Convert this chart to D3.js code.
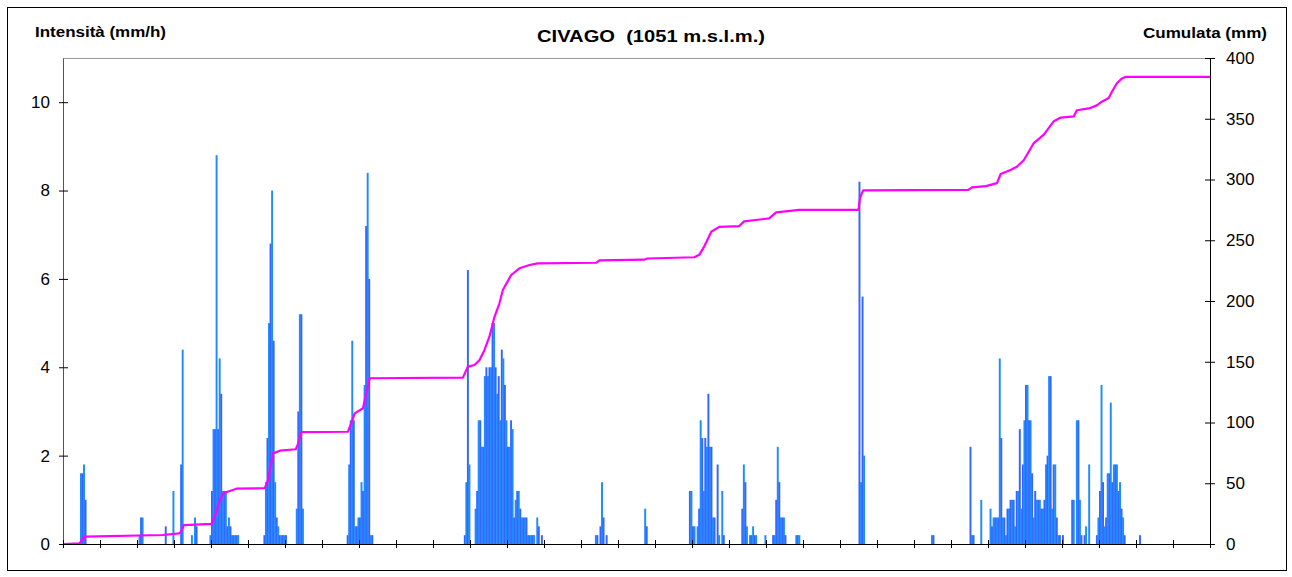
<!DOCTYPE html>
<html><head><meta charset="utf-8">
<script src="https://cdn.jsdelivr.net/npm/d3@7"></script>
<style>
html,body{margin:0;padding:0;background:#fff;}
svg{display:block;font-family:"Liberation Sans",Arial,sans-serif;}
</style></head><body>
<svg id="chart" width="1292" height="577"></svg>
<script>
// ---------- data ----------
const chartTitle = "CIVAGO  (1051 m.s.l.m.)";
const leftTitle = "Intensità (mm/h)";
const rightTitle = "Cumulata (mm)";
const totalHours = 744;               // 31 days of hourly values
const dayTicks = [0,1,2,3,4,5,6,7,8,9,10,11,12,13,14,15,16,17,18,19,20,21,22,23,24,25,26,27,28,29,30,31];
const leftTicks = [0, 2, 4, 6, 8, 10];
const rightTicks = [0, 50, 100, 150, 200, 250, 300, 350, 400];

// rain events: [start hour, consecutive hourly intensities (mm/h)]
const rainEvents = [
  [11, [1.6, 1.6, 1.8, 1.0]],
  [49, [0.2, 0.6, 0.6]],
  [66, [0.4]],
  [71, [1.2]],
  [76, [1.8, 4.4]],
  [83, [0.2, 0, 0.6, 0.4]],
  [95, [0.2, 1.2, 2.6, 2.6, 8.8, 2.6, 4.2, 3.4, 1.2, 1.2, 1.2, 0.4, 0.6, 0.4, 0.2, 0.2, 0.2, 0.2, 0.2]],
  [130, [0.2, 1.4, 2.4, 5.0, 6.8, 8.0, 4.6, 1.4, 0.6, 0.4, 0.2, 0.2, 0.2, 0.2, 0.2]],
  [151, [0.8, 3.0, 5.2, 5.2, 0.8]],
  [184, [0.2, 1.8, 2.8, 4.6, 2.8, 0.4, 0.4, 0.6, 0.6, 1.4, 1.2, 3.6, 7.2, 8.4, 6.0, 0.2, 0.2]],
  [260, [0.2, 1.4, 6.2, 1.8]],
  [267, [0.8, 1.2, 2.8, 2.8, 2.2, 2.2, 3.8, 4.0, 3.8, 4.0, 4.0, 5.0, 5.0, 4.0, 3.4, 3.8, 2.8, 4.4, 4.2, 3.6, 2.8, 2.2, 2.2, 2.8, 2.6, 0.6, 1.0, 1.2, 1.2, 0.8, 0.6, 0.6, 0.6, 0.6, 0.2, 0.2, 0.2, 0.2, 0.2, 0, 0.6, 0.4, 0, 0.2]],
  [345, [0.2, 0.2, 0, 0.4, 1.4, 0.6, 0, 0.2]],
  [377, [0.8, 0.4]],
  [406, [1.2, 1.2, 0.4, 0.4, 0, 0.4, 0.8, 2.8, 2.4, 1.2, 2.4, 2.2, 3.4, 2.2, 2.2, 0.6, 0.6, 0, 1.8, 0.2, 0, 1.2, 0.2]],
  [440, [0.8, 1.8, 1.4, 0.4, 0, 0.2, 0.2, 0.4, 0.2, 0.2]],
  [455, [0.2]],
  [460, [0.2, 0.2, 1.0, 2.2, 1.4, 0.6, 0.6, 0.6, 0.2]],
  [475, [0.2, 0.2, 0.2]],
  [516, [8.2, 1.4, 5.6, 2.0]],
  [563, [0.2, 0.2]],
  [588, [2.2, 0.2, 0.2]],
  [595, [1.0]],
  [601, [0.8, 0.4, 0.6, 0.6, 0.6, 0.6, 4.2, 2.4, 0.6, 0.6, 0.2, 0.8, 0.8, 1.0, 1.0, 1.0, 0.4, 1.2, 1.2, 2.6, 0.8, 1.8, 2.8, 3.6, 3.6, 2.8, 2.8, 1.6, 0.6, 1.2, 1.0, 1.0, 1.0, 0.8, 0.8, 1.0, 1.8, 2.0, 3.8, 3.8, 0.8, 1.8, 1.8, 0.6, 0.2, 0.2, 0, 0.2]],
  [654, [1.0, 1.0, 0, 2.8, 2.8, 1.0, 0.2, 0, 0.2, 0.4, 0, 1.8]],
  [670, [0.2, 0.6, 1.2, 3.6, 1.4, 0.4, 0.6, 1.6, 1.6, 3.2, 1.4, 1.8, 1.8, 1.8, 1.2, 1.4, 0.8, 0.6, 0.2]],
  [698, [0.2]]
];

// cumulative rainfall (mm) read at key hours
const cumHours  = [0, 10.6, 11.7, 14.3, 64.8, 75.2, 76.5, 78.4, 96.3, 99.1, 101.7, 104.3, 112.5, 130.9, 133, 136.3, 140.6, 151, 152.3, 154.6, 184.8, 187.2, 189.2, 194.6, 196.3, 198.9, 259.4, 262.6, 266.9, 270.2, 273.4, 276.6, 279.9, 283.1, 285.3, 290.7, 296.1, 302.6, 307.9, 346, 348, 377, 379, 409.5, 412.7, 416, 420.5, 425.6, 438.6, 441.8, 458, 462.6, 477.5, 516, 517, 519, 587.2, 589.6, 598.6, 605.8, 608.2, 614.6, 618.7, 623.3, 629.7, 636.2, 642.7, 647.2, 655.7, 657.6, 665.4, 670.6, 673.8, 678.3, 680.3, 683.5, 686.7, 689.3, 744];
const cumValues = [0, 0.5, 2, 6, 7.4, 8.8, 10, 15.6, 16.5, 25, 36, 42, 45.5, 46, 52.7, 74.6, 76.8, 78, 82, 92, 92.4, 100, 107.5, 111.7, 122, 136.4, 136.9, 146, 147.3, 151.4, 159.7, 170.6, 187, 198.1, 209, 221.4, 226.9, 229.6, 231, 231.5, 233.5, 234, 235, 236, 238, 245, 257, 261, 261.7, 265.5, 268, 273, 275, 275, 285, 291, 291.4, 293.5, 294.5, 297, 304.5, 307.8, 310.5, 316, 330, 337, 348, 351, 352, 357, 358.5, 361, 364, 367, 372, 379, 383, 384.5, 384.5];

// ---------- build ----------
const hourly = [];
rainEvents.forEach(([start, vals]) => vals.forEach((v, i) => { if (v > 0) hourly.push({h: start + i, v}); }));
const cumSeries = cumHours.map((h, i) => ({h, v: cumValues[i]}));

const svg = d3.select("#chart");
const plotL = 63, plotR = 1210, plotT = 58, plotB = 544;

const x = d3.scaleLinear().domain([0, totalHours]).range([plotL, plotR]);
const yL = d3.scaleLinear().domain([0, 11]).range([plotB, plotT]);
const yR = d3.scaleLinear().domain([0, 400]).range([plotB, plotT]);

// outer frame
svg.append("rect").attr("x", 7.5).attr("y", 7.5).attr("width", 1279).attr("height", 563)
  .attr("fill", "none").attr("stroke", "#000").attr("stroke-width", 1);

// plot top border
svg.append("line").attr("x1", plotL).attr("x2", plotR).attr("y1", plotT + 0.5).attr("y2", plotT + 0.5)
  .attr("stroke", "#9a9a9a").attr("stroke-width", 1);

// bars
svg.append("g").selectAll("rect").data(hourly).join("rect")
  .attr("x", d => x(d.h))
  .attr("width", d => x(d.h + 1) - x(d.h) + 0.4)
  .attr("y", d => yL(d.v))
  .attr("height", d => yL(0) - yL(d.v))
  .attr("fill", d => d.h % 2 ? "#1e8cff" : "#3366ff");

// cumulative line
svg.append("path").datum(cumSeries)
  .attr("fill", "none").attr("stroke", "#ff00ff").attr("stroke-width", 2.2)
  .attr("stroke-linejoin", "round")
  .attr("d", d3.line().x(d => x(d.h)).y(d => yR(d.v)));

// left axis
const gL = svg.append("g").attr("transform", `translate(${plotL},0)`)
  .call(d3.axisLeft(yL).tickValues(leftTicks).tickFormat(d3.format("d")).tickSizeOuter(0));
gL.select(".domain").attr("stroke", "#555");
gL.selectAll(".tick line").attr("x1", -4).attr("x2", 5).attr("stroke", "#000");
gL.selectAll(".tick text").attr("x", -13).attr("font-size", 17).attr("font-family", "Liberation Sans, Arial, sans-serif").attr("fill", "#000");

// right axis
const gR = svg.append("g").attr("transform", `translate(${plotR},0)`)
  .call(d3.axisRight(yR).tickValues(rightTicks).tickSizeOuter(0));
gR.select(".domain").attr("stroke", "#000");
gR.selectAll(".tick line").attr("x1", -5).attr("x2", 5).attr("stroke", "#000");
gR.selectAll(".tick text").attr("x", 16).attr("font-size", 17).attr("font-family", "Liberation Sans, Arial, sans-serif").attr("fill", "#000");

// bottom axis
const gX = svg.append("g").attr("transform", `translate(0,${plotB})`)
  .call(d3.axisBottom(x).tickValues(dayTicks.map(d => d * 24)).tickFormat("").tickSizeOuter(0));
gX.select(".domain").attr("stroke", "#000");
gX.selectAll(".tick line").attr("y1", -4).attr("y2", 4).attr("stroke", "#000");

// titles
svg.append("text").attr("x", 537).attr("y", 42)
  .attr("font-size", 17).attr("font-weight", "bold").style("white-space", "pre")
  .attr("textLength", 228).attr("lengthAdjust", "spacingAndGlyphs").text(chartTitle);
svg.append("text").attr("x", 35).attr("y", 37).attr("font-size", 14).attr("font-weight", "bold")
  .attr("textLength", 131).attr("lengthAdjust", "spacingAndGlyphs").text(leftTitle);
svg.append("text").attr("x", 1143).attr("y", 38)
  .attr("font-size", 14).attr("font-weight", "bold")
  .attr("textLength", 124).attr("lengthAdjust", "spacingAndGlyphs").text(rightTitle);
</script>
</body></html>
